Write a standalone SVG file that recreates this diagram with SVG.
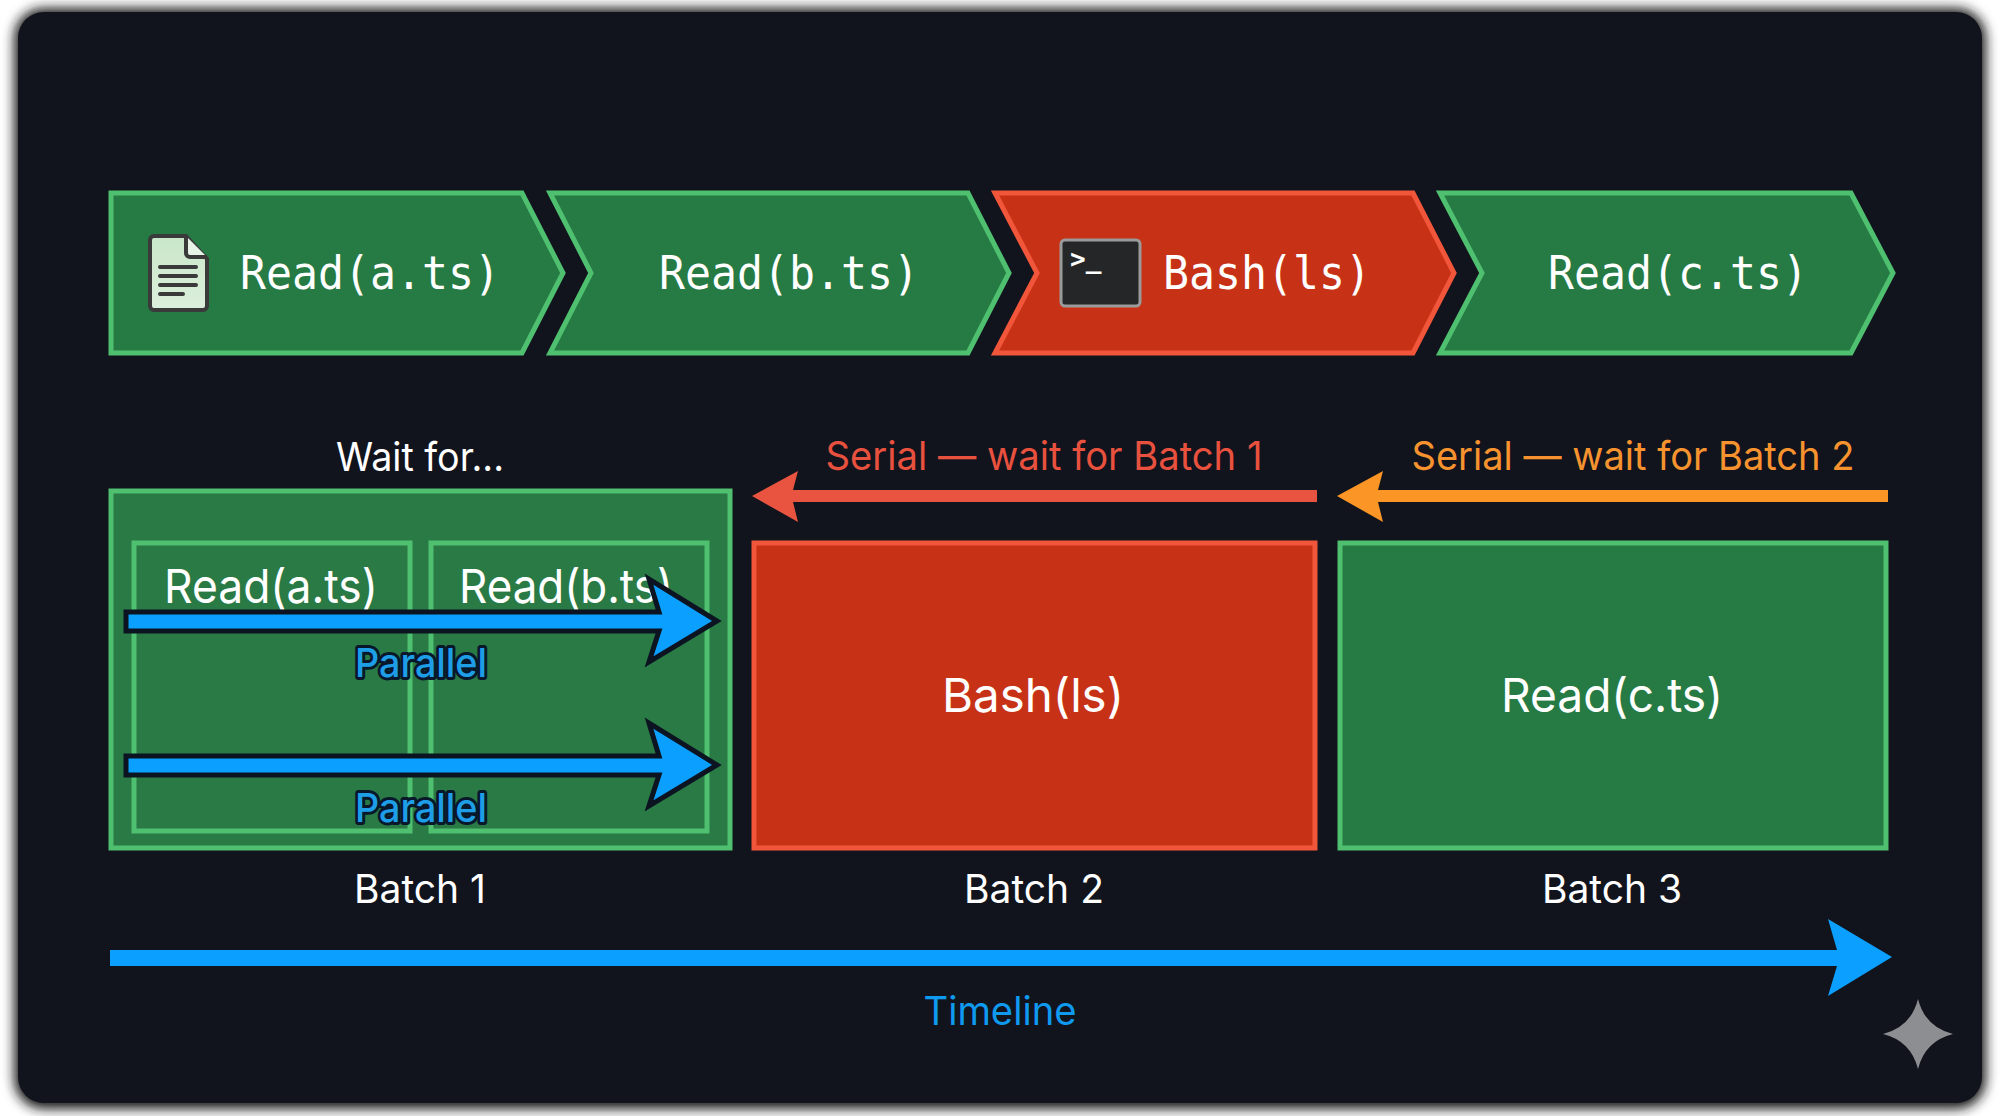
<svg xmlns="http://www.w3.org/2000/svg" width="2000" height="1116" viewBox="0 0 2000 1116">
<defs>
<style>
.g{fill:#267a43;stroke:#4fc06f;stroke-width:5}
.r{fill:#c73217;stroke:#f2563a;stroke-width:5}
.in{fill:none;stroke:#4fc06f;stroke-width:5}
.m{font-family:"DejaVu Sans Mono","Liberation Mono",monospace;font-size:46px;fill:#fff}
.s{font-family:Inter,"Liberation Sans",sans-serif;fill:#fff;text-anchor:middle}
.l{font-size:39px}
.b{font-size:47px}
.p{font-size:40px;font-weight:500;fill:#1f9ee8;stroke:#08182a;stroke-width:6;paint-order:stroke;stroke-linejoin:round}
.ap{fill:#0ba0ff;stroke:#0b1420;stroke-width:5;stroke-linejoin:miter}
</style>
<filter id="sh" x="-5%" y="-5%" width="110%" height="110%"><feGaussianBlur stdDeviation="6"/></filter>
<linearGradient id="doc" x1="0" y1="0" x2="0" y2="1"><stop offset="0" stop-color="#c9e6c9"/><stop offset="1" stop-color="#dcefdc"/></linearGradient>
</defs>
<rect width="2000" height="1116" fill="#fff"/>
<rect x="14" y="8" width="1972" height="1101" rx="30" fill="#1a1a1a" filter="url(#sh)"/>
<rect x="18" y="12" width="1964" height="1091" rx="26" fill="#11141d"/>

<g id="step-read-a">
<polygon class="g" points="111,193 522,193 563,273 522,353 111,353"/>
<path d="M150,240a4,4 0 0 1 4,-4H186L207,259V306a4,4 0 0 1 -4,4H154a4,4 0 0 1 -4,-4Z" fill="url(#doc)" stroke="#3a3a3a" stroke-width="4"/>
<path d="M186,236V253a4,4 0 0 0 4,4H207" fill="#e6f3e6" stroke="#3a3a3a" stroke-width="4"/>
<path d="M160,267H196M160,276H196M160,285H196M160,294H183" stroke="#3a3a3a" stroke-width="4" stroke-linecap="round"/>
<text class="m" x="240" y="289" textLength="260" lengthAdjust="spacingAndGlyphs">Read(a.ts)</text>
</g>
<g id="step-read-b">
<polygon class="g" points="550,193 968,193 1009,273 968,353 550,353 591,273"/>
<text class="m" x="659" y="289" textLength="260" lengthAdjust="spacingAndGlyphs">Read(b.ts)</text>
</g>
<g id="step-bash">
<polygon class="r" points="995,193 1413,193 1454,273 1413,353 995,353 1037,273"/>
<rect x="1061" y="240" width="79" height="66" rx="4" fill="#252627" stroke="#9a9a9a" stroke-width="3"/>
<text x="1070" y="268" font-family="DejaVu Sans Mono,monospace" font-size="26" font-weight="700" fill="#fff">&gt;_</text>
<text class="m" x="1163" y="289" textLength="208" lengthAdjust="spacingAndGlyphs">Bash(ls)</text>
</g>
<g id="step-read-c">
<polygon class="g" points="1440,193 1851,193 1893,273 1851,353 1440,353 1482,273"/>
<text class="m" x="1548" y="289" textLength="260" lengthAdjust="spacingAndGlyphs">Read(c.ts)</text>
</g>

<g id="batch-1">
<rect class="g" x="111" y="491" width="619" height="357" style="fill:#2a7a46"/>
<rect class="in" x="134" y="543" width="276" height="288"/>
<rect class="in" x="431" y="543" width="276" height="288"/>
<text class="s b" x="271" y="603" textLength="214" lengthAdjust="spacingAndGlyphs">Read(a.ts)</text>
<text class="s b" x="566" y="603" textLength="214" lengthAdjust="spacingAndGlyphs">Read(b.ts)</text>
<text class="s l" x="420" y="471" textLength="168" lengthAdjust="spacingAndGlyphs">Wait for...</text>
<text class="s l" x="420" y="903">Batch 1</text>
</g>
<g id="batch-2">
<rect class="r" x="754" y="543" width="561" height="305"/>
<text class="s b" x="1033" y="712" textLength="182" lengthAdjust="spacingAndGlyphs">Bash(ls)</text>
<text class="s l" x="1034" y="903">Batch 2</text>
</g>
<g id="batch-3">
<rect class="g" x="1340" y="543" width="546" height="305"/>
<text class="s b" x="1612" y="712" textLength="222" lengthAdjust="spacingAndGlyphs">Read(c.ts)</text>
<text class="s l" x="1612" y="903">Batch 3</text>
</g>

<g id="connectors">
<polygon class="ap" points="126,612 659,612 649,579 717,621 649,662 659,631 126,631"/>
<polygon class="ap" points="126,756 659,756 649,723 717,765 649,806 659,775 126,775"/>
<polygon points="752,496 798,471 793,490 1317,490 1317,502 793,502 798,522" fill="#e95440"/>
<polygon points="1337,496 1383,471 1378,490 1888,490 1888,502 1378,502 1383,522" fill="#fb9626"/>
<polygon points="110,950 1837,950 1828,919 1892,957 1828,996 1837,966 110,966" fill="#0ba0ff"/>
</g>

<g id="labels">
<text class="s p" x="421" y="677" textLength="132" lengthAdjust="spacingAndGlyphs">Parallel</text>
<text class="s p" x="421" y="822" textLength="132" lengthAdjust="spacingAndGlyphs">Parallel</text>
<text class="s l" x="1044" y="470" textLength="437" lengthAdjust="spacingAndGlyphs" style="fill:#e9513f">Serial — wait for Batch 1</text>
<text class="s l" x="1633" y="470" textLength="443" lengthAdjust="spacingAndGlyphs" style="fill:#f7932e">Serial — wait for Batch 2</text>
<text class="s l" x="1000" y="1025" textLength="153" lengthAdjust="spacingAndGlyphs" style="fill:#0f9af0">Timeline</text>
</g>
<path id="sparkle" d="M1918,999Q1925,1027 1953,1034Q1925,1041 1918,1069Q1911,1041 1883,1034Q1911,1027 1918,999Z" fill="#8d8e92"/>
</svg>
